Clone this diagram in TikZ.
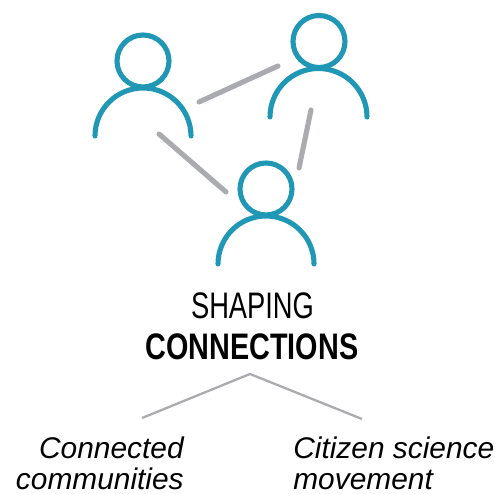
\documentclass[tikz,border=0pt]{standalone}
\usepackage{fontspec}
\usepackage{xcolor}
\setmainfont{Liberation Sans}
\newfontfamily\titlefont[FakeStretch=0.74]{Liberation Sans}
\newfontfamily\titleboldfont[FakeStretch=0.78]{Liberation Sans Bold}
\definecolor{tealperson}{HTML}{1F97B5}
\definecolor{graylink}{HTML}{A9ABAE}
\tikzset{
    head/.style={circle, draw=tealperson, line width=2.9pt, minimum size=1.04cm, inner sep=0pt},
    shoulder/.style={draw=tealperson, line width=2.9pt, line cap=round},
    link/.style={draw=graylink, line width=2.9pt, line cap=round},
    branch/.style={draw=graylink, line width=1.3pt},
    lefttext/.style={anchor=base east, inner sep=0pt, font=\fontsize{17}{20}\selectfont\itshape},
    righttext/.style={anchor=base west, inner sep=0pt, font=\fontsize{17}{20}\selectfont\itshape}
}
\begin{document}
\begin{tikzpicture}
        \useasboundingbox (0,0) rectangle (9.9,9.88);

        % Heads
        \node[head] (headA) at (2.86,8.66) {};
        \node[head] (headB) at (6.38,9.05) {};
        \node[head] (headC) at (5.32,6.10) {};

        % Shoulders
        \coordinate (shoulderA) at (1.90,7.16);
        \coordinate (shoulderB) at (5.40,7.54);
        \coordinate (shoulderC) at (4.36,4.60);
        \draw[shoulder] (shoulderA) arc[start angle=180, end angle=0, radius=0.96];
        \draw[shoulder] (shoulderB) arc[start angle=180, end angle=0, radius=0.97];
        \draw[shoulder] (shoulderC) arc[start angle=180, end angle=0, radius=0.96];

        % Links between people
        \coordinate (linkAB1) at (3.98,7.84);
        \coordinate (linkAB2) at (5.56,8.56);
        \coordinate (linkAC1) at (3.18,7.20);
        \coordinate (linkAC2) at (4.52,6.04);
        \coordinate (linkBC1) at (6.22,7.68);
        \coordinate (linkBC2) at (5.98,6.52);
        \draw[link] (linkAB1) -- (linkAB2);
        \draw[link] (linkAC1) -- (linkAC2);
        \draw[link] (linkBC1) -- (linkBC2);

        % Title
        \node[anchor=base, inner sep=0pt, font=\fontsize{21}{24}\selectfont\titlefont] (shaping) at (5.05,3.50) {SHAPING};
        \node[anchor=base, inner sep=0pt, font=\fontsize{21}{24}\selectfont\titleboldfont] (connections) at (5.04,2.69) {CONNECTIONS};

        % Branches
        \coordinate (apex) at (5.00,2.40);
        \coordinate (branchL) at (2.84,1.52);
        \coordinate (branchR) at (7.24,1.50);
        \draw[branch] (branchL) -- (apex) -- (branchR);

        % Two strands
        \node[lefttext] (connected) at (3.68,0.70) {Connected};
        \node[lefttext] (communities) at (3.68,0.09) {communities};
        \node[righttext] (citizen) at (5.86,0.70) {Citizen science};
        \node[righttext] (movement) at (5.86,0.09) {movement};
\end{tikzpicture}
\end{document}
